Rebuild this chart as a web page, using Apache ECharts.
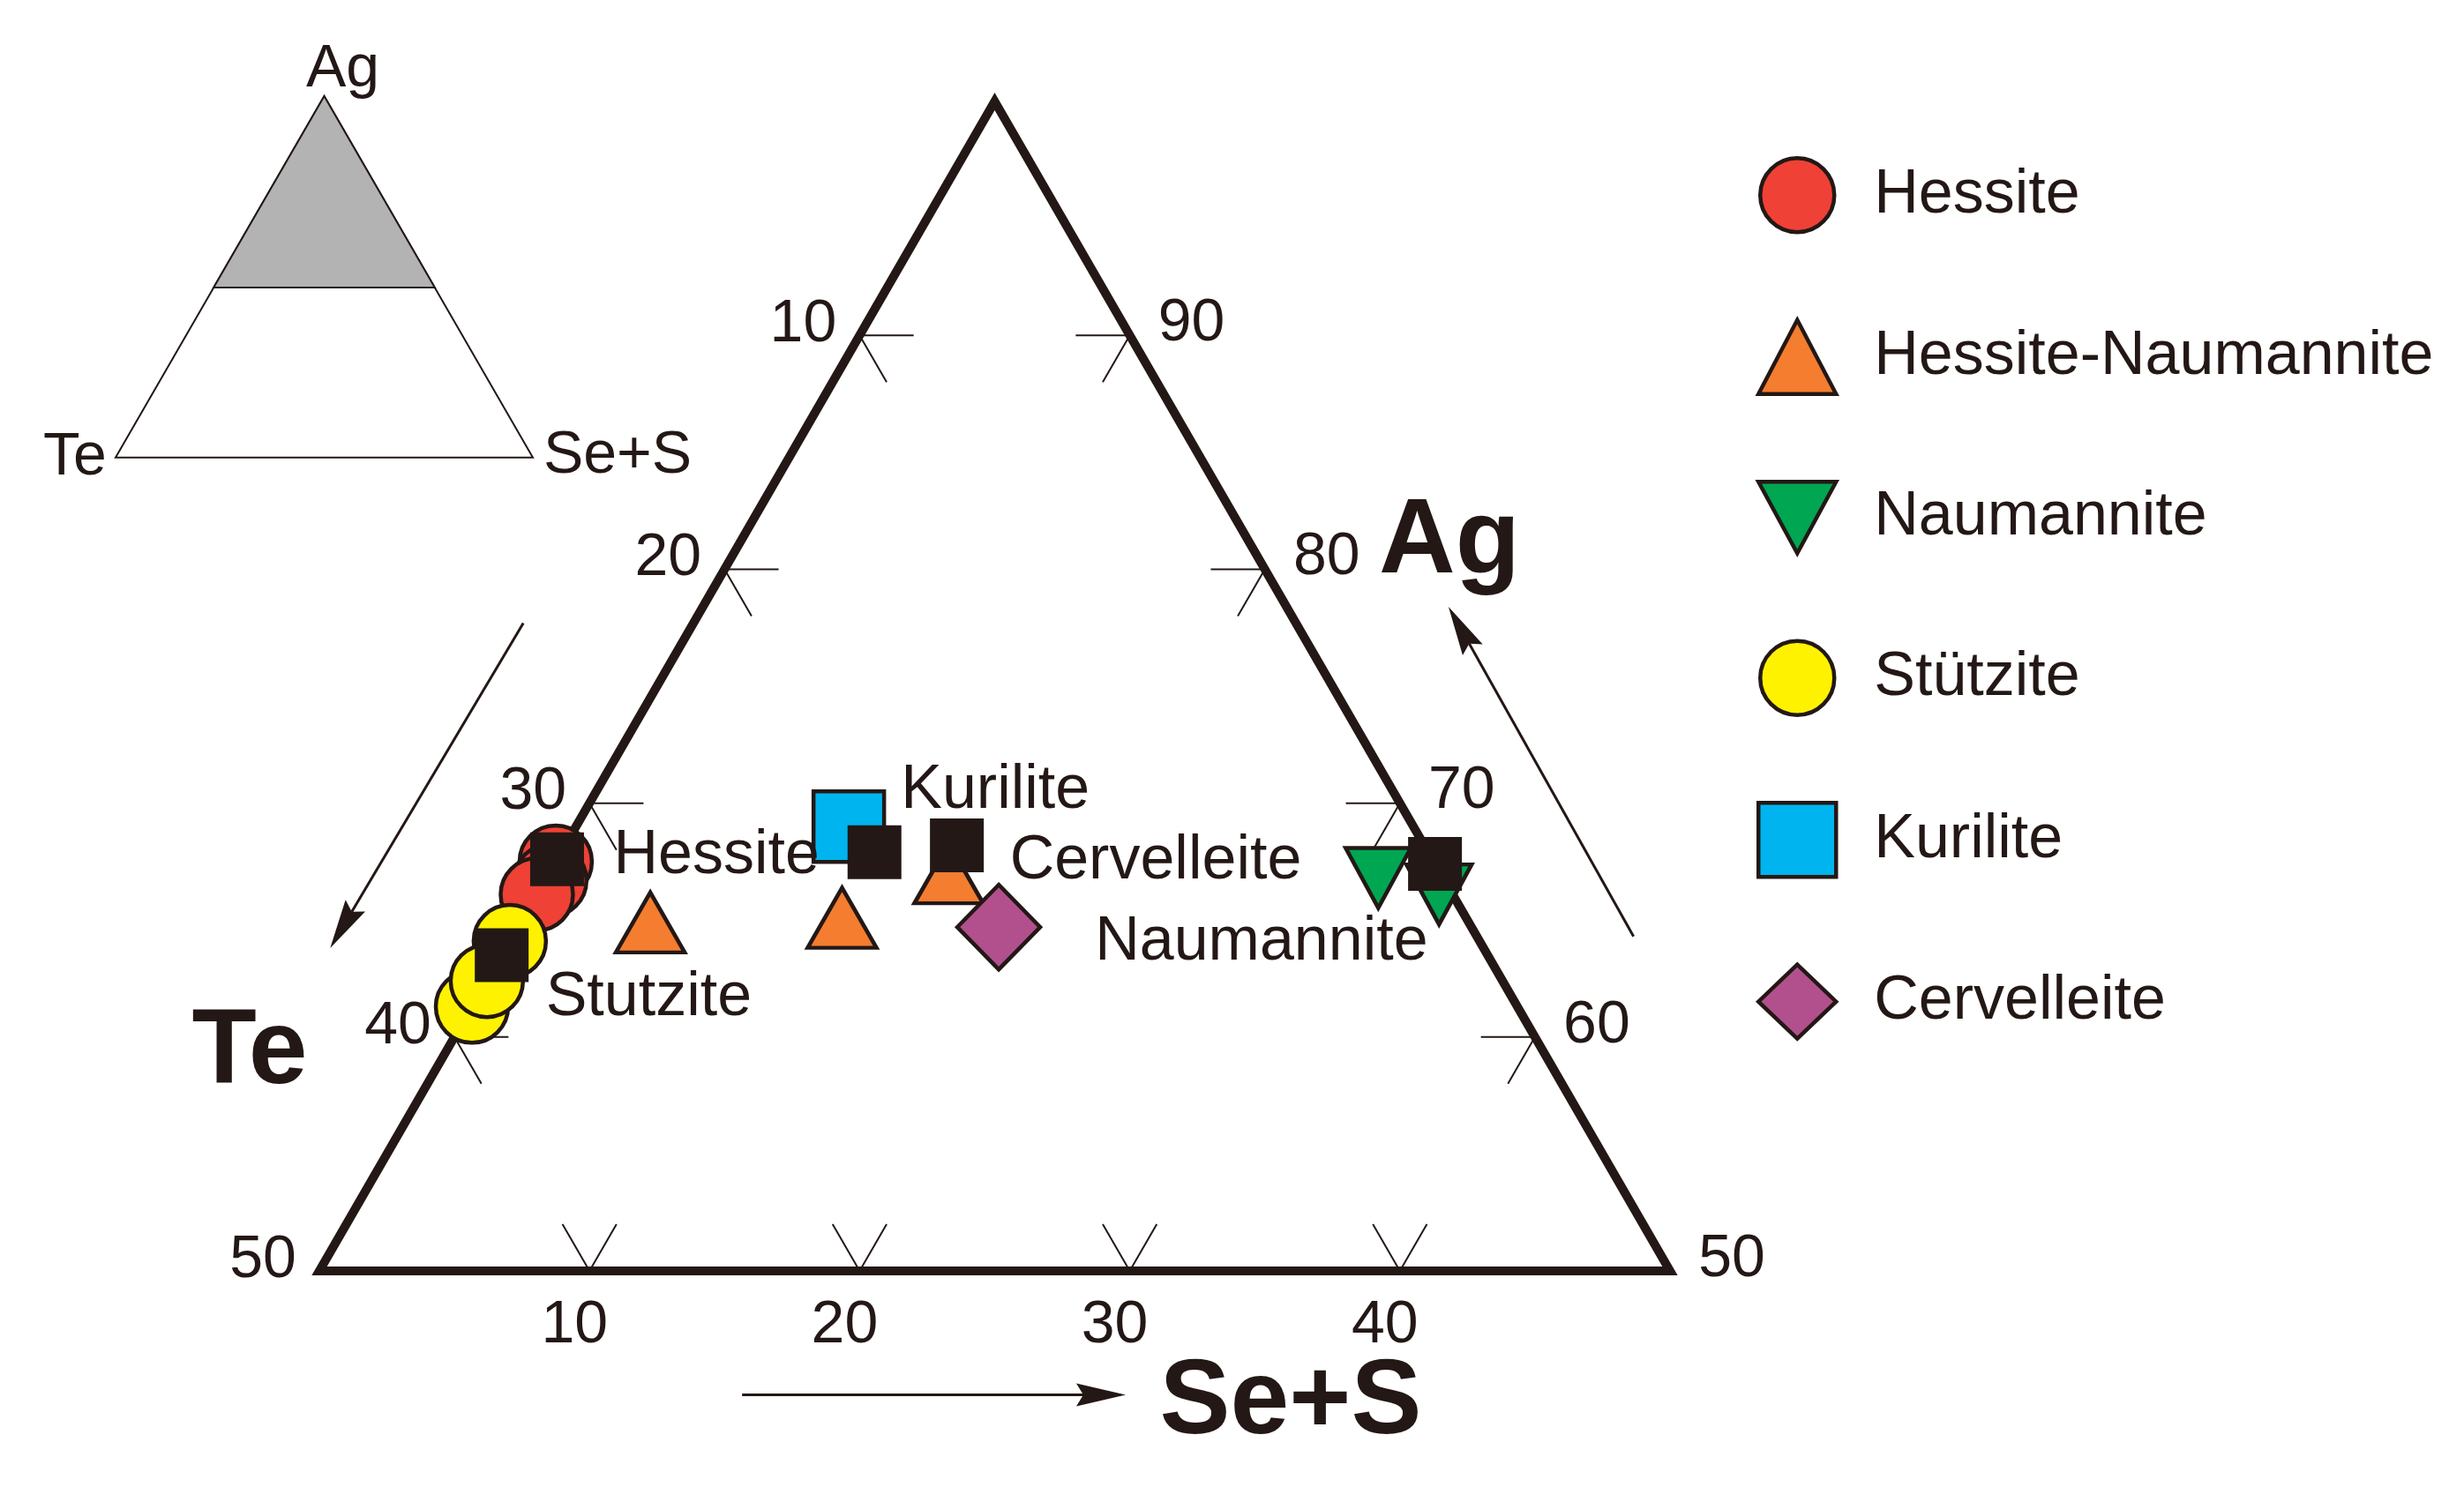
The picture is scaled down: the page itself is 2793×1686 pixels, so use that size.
<!DOCTYPE html>
<html>
<head>
<meta charset="utf-8">
<script src="https://cdn.jsdelivr.net/npm/echarts@6/dist/echarts.min.js"></script>
<style>
  html, body { margin: 0; padding: 0; background: #fff; }
  #chart { width: 2793px; height: 1686px; }
</style>
</head>
<body>
<div id="chart"></div>
<script>
// compositions in at.%, each point is [Te, Ag, Se+S]
var hessite = [[32.5, 67.5, 0.0], [33.1, 66.7, 0.2], [33.9, 66.1, 0.0]]
var stutzite = [[38.7, 61.3, 0.0], [35.9, 64.1, 0.0], [37.6, 62.4, 0.0]]
var hessiteNaumannite = [[30.3, 64.9, 4.8], [23.1, 65.1, 11.8], [18.2, 67.0, 14.8]]
var kurilite = [[20.9, 69.0, 10.1]]
var cervelleite = [[17.5, 64.7, 17.8]]
var naumannite = [[2.4, 66.8, 30.8], [0.5, 66.1, 33.4]]

// ideal compositions (black squares)
var refNames = ['Hessite', 'Stutzite', 'Kurilite', 'Cervelleite', 'Naumannite']
var refComp = [[32.4, 67.6, 0.0], [36.5, 63.5, 0.0], [20.5, 67.9, 11.6], [17.3, 68.2, 14.5], [0.0, 67.4, 32.6]]

// tick labels on the three sides
var teTicks = [10, 20, 30, 40, 50]
var agTicks = [90, 80, 70, 60, 50]
var seTicks = [10, 20, 30, 40]
var tickSteps = [10, 20, 30, 40]

// shown part of the diagram (Ag 50-100) and the shaded part of the small triangle
var frame = [[50, 50, 0], [0, 100, 0], [0, 50, 50]]
var insetFull = [[100, 0, 0], [0, 100, 0], [0, 0, 100]]
var insetShade = [[53, 47, 0], [0, 100, 0], [0, 47, 53]]

// direction arrows beside the sides, [from, to]
var arrows = [
  [[28.6, 77.7, -6.3], [42.7, 63.8, -6.5]],
  [[37.0, 44.7, 18.3], [22.8, 44.7, 32.5]],
  [[-5.8, 64.3, 41.5], [-6.0, 78.4, 27.6]]
]

var INK = '#231815'
var FONT = '"Liberation Sans", Arial, Helvetica, sans-serif'
var S3 = Math.sqrt(3) / 2

// ternary -> cartesian
function xy (p) {
  var s = p[0] + p[1] + p[2]
  var ag = p[1] / s * 100
  var se = p[2] / s * 100
  return [se + ag / 2, ag * S3]
}

var W = 2793
var H = 1686
var PX = 30.62 // pixels per 1 % along a side
var baseLeft = 362
var baseTop = 1441
var xMin = 25 - baseLeft / PX
var yMin = 50 * S3 - (H - baseTop) / PX
var insetW = 473

// little tick marks, 2 % long, along the grid directions
var tickSegs = []
tickSteps.forEach(function (v) {
  var L = [v, 100 - v, 0]
  var R = [0, 100 - v, v]
  var B = [50 - v, 50, v]
  tickSegs.push([L, [v - 2, 100 - v, 2]], [L, [v, 98 - v, 2]])
  tickSegs.push([R, [2, 100 - v, v - 2]], [R, [2, 98 - v, v]])
  tickSegs.push([B, [50 - v, 52, v - 2]], [B, [48 - v, 52, v]])
})

function txt (s, x, y, size, weight, align) {
  return {
    type: 'text',
    x: x,
    y: y,
    style: {
      text: String(s),
      fontSize: size,
      fontFamily: FONT,
      fontWeight: weight || 'normal',
      fill: INK,
      align: align || 'center',
      verticalAlign: 'middle'
    }
  }
}

function scatter (name, data, symbol, size, color) {
  return {
    type: 'scatter',
    name: name,
    xAxisIndex: 0,
    yAxisIndex: 0,
    data: data.map(xy),
    symbol: symbol,
    symbolSize: size,
    symbolKeepAspect: false,
    itemStyle: { color: color, borderColor: INK, borderWidth: 4.5, opacity: 1 },
    emphasis: { disabled: true },
    silent: true,
    z: 3
  }
}

// label offsets (px) from the black squares
var refLabel = {
  Hessite: [64, -4, 'left'],
  Stutzite: [50, 49, 'left'],
  Kurilite: [30, -70, 'left'],
  Cervelleite: [60, 18, 'left'],
  Naumannite: [-8, 89, 'right']
}

var option = {
  animation: false,
  backgroundColor: '#fff',
  grid: [
    { left: 0, top: 0, width: W, height: H, outerBoundsMode: 'none' },
    { left: 131, top: 109, width: insetW, height: insetW * S3, outerBoundsMode: 'none' }
  ],
  xAxis: [
    { gridIndex: 0, type: 'value', min: xMin, max: xMin + W / PX, show: false },
    { gridIndex: 1, type: 'value', min: 0, max: 100, show: false }
  ],
  yAxis: [
    { gridIndex: 0, type: 'value', min: yMin, max: yMin + H / PX, show: false },
    { gridIndex: 1, type: 'value', min: 0, max: 100 * S3, show: false }
  ],
  legend: {
    data: ['Hessite', 'Hessite-Naumannite', 'Naumannite', 'Stützite', 'Kurilite', 'Cervelleite'],
    orient: 'vertical',
    left: 1991,
    top: 177,
    padding: 0,
    itemWidth: 88,
    itemHeight: 84,
    itemGap: 95,
    symbolKeepAspect: true,
    selectedMode: false,
    itemStyle: { borderColor: INK, borderWidth: 4.5 },
    textStyle: { fontSize: 70, color: INK, fontFamily: FONT, padding: [0, 0, 0, 38] }
  },
  graphic: [
    txt('Ag', 1643, 616, 120, 'bold'),
    txt('Te', 283, 1195, 120, 'bold'),
    txt('Se+S', 1463, 1592, 120, 'bold')
  ],
  series: [
    {
      // main triangle, ticks and tick labels
      type: 'custom',
      xAxisIndex: 0,
      yAxisIndex: 0,
      data: [[50, 60]],
      silent: true,
      z: 1,
      renderItem: function (params, api) {
        var c = function (p) { return api.coord(xy(p)) }
        var kids = [{
          type: 'polygon',
          shape: { points: frame.map(c) },
          style: { fill: 'none', stroke: INK, lineWidth: 10, lineJoin: 'miter' }
        }]
        tickSegs.forEach(function (s) {
          var a = c(s[0])
          var b = c(s[1])
          kids.push({ type: 'line', shape: { x1: a[0], y1: a[1], x2: b[0], y2: b[1] }, style: { stroke: INK, lineWidth: 2 } })
        })
        teTicks.forEach(function (v) {
          var a = c([v, 100 - v, 0])
          kids.push(txt(v, a[0] - 64, a[1] - 12, 68))
        })
        agTicks.forEach(function (v) {
          var a = c([0, v, 100 - v])
          kids.push(txt(v, a[0] + 70, a[1] - 13, 68))
        })
        seTicks.forEach(function (v) {
          var a = c([50 - v, 50, v])
          kids.push(txt(v, a[0] - 17, a[1] + 62, 68))
        })
        return { type: 'group', children: kids }
      }
    },
    {
      // small index triangle
      type: 'custom',
      xAxisIndex: 1,
      yAxisIndex: 1,
      data: [[50, 40]],
      silent: true,
      z: 1,
      renderItem: function (params, api) {
        var c = function (p) { return api.coord(xy(p)) }
        var top = c([0, 100, 0])
        var left = c([100, 0, 0])
        var right = c([0, 0, 100])
        return {
          type: 'group',
          children: [
            { type: 'polygon', shape: { points: insetFull.map(c) }, style: { fill: '#fff', stroke: INK, lineWidth: 2 } },
            { type: 'polygon', shape: { points: insetShade.map(c) }, style: { fill: '#b3b3b3', stroke: INK, lineWidth: 2 } },
            txt('Ag', top[0] + 21, top[1] - 30, 68),
            txt('Te', left[0] - 46, left[1] + 1, 68),
            txt('Se+S', right[0] + 96, right[1] - 1, 68)
          ]
        }
      }
    },
    {
      // arrows
      type: 'custom',
      xAxisIndex: 0,
      yAxisIndex: 0,
      data: [[50, 60]],
      silent: true,
      z: 1,
      renderItem: function (params, api) {
        var kids = []
        arrows.forEach(function (a) {
          var p0 = api.coord(xy(a[0]))
          var p1 = api.coord(xy(a[1]))
          var dx = p1[0] - p0[0]
          var dy = p1[1] - p0[1]
          var len = Math.sqrt(dx * dx + dy * dy)
          var ux = dx / len
          var uy = dy / len
          var hl = 56
          var hw = 13
          var bx = p1[0] - ux * hl
          var by = p1[1] - uy * hl
          var nx = p1[0] - ux * (hl - 8)
          var ny = p1[1] - uy * (hl - 8)
          kids.push({ type: 'line', shape: { x1: p0[0], y1: p0[1], x2: nx, y2: ny }, style: { stroke: INK, lineWidth: 3 } })
          kids.push({
            type: 'polygon',
            shape: { points: [[p1[0], p1[1]], [bx - uy * hw, by + ux * hw], [nx, ny], [bx + uy * hw, by - ux * hw]] },
            style: { fill: INK, stroke: 'none' }
          })
        })
        return { type: 'group', children: kids }
      }
    },
    scatter('Hessite', hessite, 'circle', 82, '#ef4136'),
    scatter('Stützite', stutzite, 'circle', 82, '#fff200'),
    scatter('Hessite-Naumannite', hessiteNaumannite, 'triangle', [78, 68], '#f47d30'),
    scatter('Kurilite', kurilite, 'rect', 80, '#00b5ef'),
    scatter('Cervelleite', cervelleite, 'diamond', [94, 96], '#b2508d'),
    scatter('Naumannite', naumannite, 'path://M0,0L10,0L5,9.2Z', [74, 68], '#00a651'),
    {
      type: 'scatter',
      name: 'ideal',
      xAxisIndex: 0,
      yAxisIndex: 0,
      symbol: 'rect',
      symbolSize: 61,
      itemStyle: { color: INK, borderWidth: 0, opacity: 1 },
      emphasis: { disabled: true },
      silent: true,
      z: 4,
      label: {
        show: true,
        position: 'inside',
        formatter: '{b}',
        fontSize: 70,
        fontFamily: FONT,
        color: INK,
        textBorderWidth: 0,
        verticalAlign: 'middle'
      },
      data: refComp.map(function (p, i) {
        var o = refLabel[refNames[i]]
        return { name: refNames[i], value: xy(p), label: { offset: [o[0], o[1]], align: o[2] } }
      })
    }
  ]
}

var myChart = echarts.init(document.getElementById('chart'))
myChart.setOption(option)
</script>
</body>
</html>
